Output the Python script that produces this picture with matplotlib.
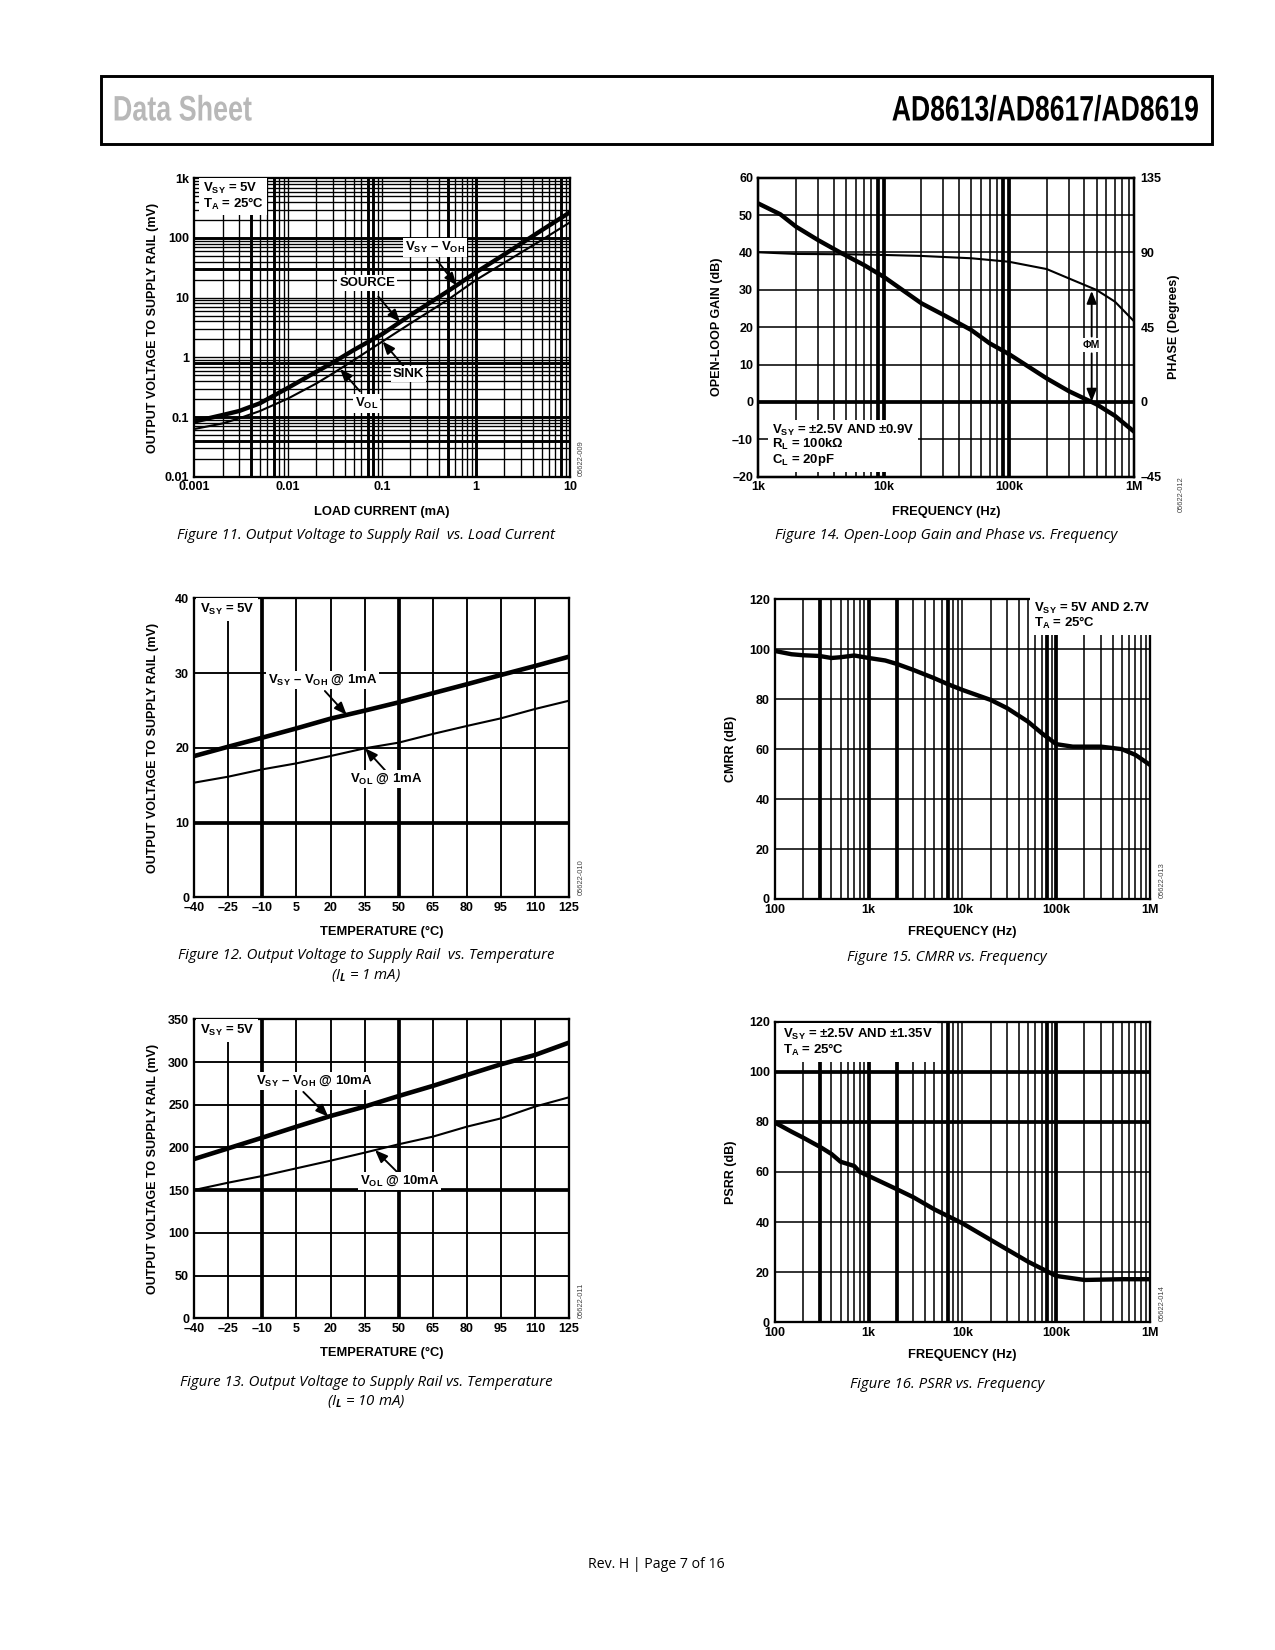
import numpy as np
import matplotlib
matplotlib.use('Agg')
import matplotlib.pyplot as plt
from matplotlib.ticker import FixedLocator, FixedFormatter, NullLocator
from matplotlib.patches import Rectangle
from matplotlib import patheffects
from matplotlib.transforms import Affine2D

plt.rcParams['font.family'] = ['Liberation Sans', 'DejaVu Sans']
plt.rcParams['font.weight'] = 'bold'
plt.rcParams['mathtext.fontset'] = 'custom'
plt.rcParams['mathtext.rm'] = 'Liberation Sans:bold'
plt.rcParams['mathtext.bf'] = 'Liberation Sans:bold'
plt.rcParams['mathtext.sf'] = 'Liberation Sans:bold'
plt.rcParams['mathtext.it'] = 'Open Sans:italic'

# ---------------- DATA ----------------
# Figure 11: output voltage to supply rail vs load current (log-log)
load_current_mA = [0.001, 0.002, 0.003, 0.005, 0.01, 0.02, 0.03, 0.05, 0.1, 0.2, 0.5, 1, 2, 3, 5, 10]
source_mV = [0.084, 0.108, 0.126, 0.17, 0.31, 0.575, 0.82, 1.33, 2.45, 5.1, 12.8, 26.6, 53, 80, 135, 270]
sink_mV = [0.063, 0.078, 0.095, 0.126, 0.205, 0.366, 0.54, 0.9, 1.83, 3.7, 9.2, 19.8, 38.6, 56.8, 92.6, 183]
fig11_xticks = [0.001, 0.01, 0.1, 1, 10]
fig11_xlabels = ['0.001', '0.01', '0.1', '1', '10']
fig11_yticks = [0.01, 0.1, 1, 10, 100, 1000]
fig11_ylabels = ['0.01', '0.1', '1', '10', '100', '1k']

# Figures 12 and 13: output voltage to supply rail vs temperature
temperature_C = [-40, -25, -10, 5, 20, 35, 50, 65, 80, 95, 110, 125]
voh_1mA = [18.9, 20.15, 21.36, 22.6, 23.9, 24.97, 26.08, 27.3, 28.5, 29.74, 30.94, 32.19]
vol_1mA = [15.34, 16.14, 17.12, 17.92, 18.9, 19.93, 20.69, 21.85, 22.92, 23.94, 25.19, 26.3]
voh_10mA = [186.5, 199, 211.5, 224.3, 236.8, 247.8, 260.2, 272, 284.8, 297.3, 308.2, 322.7]
vol_10mA = [150.2, 158.8, 166.6, 175.6, 184.5, 193.9, 203.7, 212.6, 224.3, 234, 247.8, 258.7]
temp_ticklabels = ['\u201340', '\u201325', '\u201310', '5', '20', '35', '50', '65', '80', '95', '110', '125']
fig12_yticks = [0, 10, 20, 30, 40]
fig13_yticks = [0, 50, 100, 150, 200, 250, 300, 350]

# Figure 14: open-loop gain and phase vs frequency
gain_freq_Hz = [1e3, 1.5e3, 2e3, 3e3, 4.5e3, 7e3, 1e4, 2e4, 3e4, 5e4, 7e4, 1e5, 2e5, 3e5, 5e5, 7e5, 1e6]
gain_dB = [53.1, 50.2, 46.9, 43.3, 40.0, 36.6, 33.5, 26.4, 23.3, 19.25, 15.7, 12.8, 6.3, 2.9, -0.64, -3.7, -8.0]
phase_freq_Hz = [1e3, 2e3, 5e3, 1e4, 2e4, 5e4, 1e5, 2e5, 3e5, 5e5, 7e5, 1e6]
phase_deg = [90.1, 89.1, 88.9, 88.5, 87.9, 86.5, 84.4, 80.0, 74.4, 67.4, 60.4, 48.4]
fig14_xticks = [1e3, 1e4, 1e5, 1e6]
fig14_xlabels = ['1k', '10k', '100k', '1M']
fig14_gain_ticks = [-20, -10, 0, 10, 20, 30, 40, 50, 60]
fig14_phase_ticks = [-45, 0, 45, 90, 135]

# Figure 15: CMRR vs frequency
cmrr_freq_Hz = [100, 150, 200, 300, 400, 500, 700, 1e3, 1.5e3, 2e3, 3e3, 5e3, 7e3, 1e4, 2e4, 3e4, 5e4,
                7e4, 1e5, 1.5e5, 2e5, 3e5, 5e5, 7e5, 1e6]
cmrr_dB = [99.3, 98.0, 97.6, 97.3, 96.5, 96.8, 97.5, 96.5, 95.5, 94.1, 91.7, 88.4, 86.0, 83.7, 79.7, 76.4,
           71.0, 66.4, 62.0, 61.0, 61.0, 61.0, 60.0, 57.7, 53.7]

# Figure 16: PSRR vs frequency
psrr_freq_Hz = [100, 150, 200, 250, 300, 400, 500, 700, 800, 1e3, 2e3, 3e3, 5e3, 1e4, 2e4, 5e4, 1e5,
                2e5, 5e5, 1e6]
psrr_dB = [79.7, 76.1, 73.7, 71.7, 70.1, 67.2, 64.1, 62.4, 60.1, 58.4, 53.1, 49.9, 45.1, 39.5, 32.9,
           24.2, 18.5, 16.9, 17.2, 17.2]
freq_ticks = [100, 1e3, 1e4, 1e5, 1e6]
freq_labels = ['100', '1k', '10k', '100k', '1M']
db_ticks = [0, 20, 40, 60, 80, 100, 120]

# ---------------- HELPERS ----------------
DPI = 150
fig = plt.figure(figsize=(8.5, 11), dpi=DPI)
FW, FH = 1275.0, 1650.0


class Squeeze(patheffects.AbstractPathEffect):
    """Draw glyphs horizontally condensed about their centre (text stays a real Text artist)."""
    def __init__(self, sx):
        super().__init__()
        self.sx = sx

    def draw_path(self, renderer, gc, tpath, affine, rgbFace=None):
        v = tpath.vertices
        c = 0.5 * (v[:, 0].min() + v[:, 0].max()) if len(v) else 0.0
        pre = Affine2D().translate(-c, 0).scale(self.sx, 1.0).translate(c, 0)
        renderer.draw_path(gc, tpath, pre + affine, rgbFace)


def rect(l, t, r, b):
    return [l / FW, 1 - b / FH, (r - l) / FW, (b - t) / FH]


def log_positions(lo, hi):
    out = []
    e = lo
    while e < hi:
        for m in range(1, 10):
            out.append(m * 10.0 ** e)
        e += 1
    return out[1:]


def draw_grid(ax, xs, ys, xthick=(), ythick=(), lw=0.7, lwt=1.5):
    for x in xs:
        w = lwt if any(np.isclose(x, t, rtol=1e-6) for t in xthick) else lw
        ax.axvline(x, color='k', lw=w, zorder=1)
    for y in ys:
        w = lwt if any(np.isclose(y, t, rtol=1e-6) for t in ythick) else lw
        ax.axhline(y, color='k', lw=w, zorder=1)


def style_axes(ax, xticks, xlabels, yticks, ylabels):
    ax.xaxis.set_major_locator(FixedLocator(xticks))
    ax.xaxis.set_major_formatter(FixedFormatter(xlabels))
    ax.yaxis.set_major_locator(FixedLocator(yticks))
    ax.yaxis.set_major_formatter(FixedFormatter(ylabels))
    ax.xaxis.set_minor_locator(NullLocator())
    ax.yaxis.set_minor_locator(NullLocator())
    ax.tick_params(axis='both', length=0, labelsize=6)
    ax.tick_params(axis='x', pad=2.2)
    ax.tick_params(axis='y', pad=2.5)
    for s in ax.spines.values():
        s.set_linewidth(1.1)
        s.set_zorder(6)


def labels(ax, xl, yl, xl_y, yl_x):
    ax.text(0.5, xl_y, xl, transform=ax.transAxes, ha='center', va='center', fontsize=6.2)
    ax.text(yl_x, 0.5, yl, transform=ax.transAxes, ha='center', va='center', fontsize=6.0, rotation=90)


def on_curve(xq, xs, ys, logx=False, logy=False):
    xa = np.log10(xs) if logx else np.asarray(xs, float)
    ya = np.log10(ys) if logy else np.asarray(ys, float)
    xv = np.log10(xq) if logx else xq
    v = np.interp(xv, xa, ya)
    return 10 ** v if logy else v


def arrow(ax, tail, tip):
    ax.annotate('', xy=tip, xytext=tail, zorder=7,
                arrowprops=dict(arrowstyle='-|>,head_length=0.5,head_width=0.2', color='k', lw=0.9,
                                shrinkA=0, shrinkB=0))


def tag(ax, x, y, s, fs=6.3, coords='data', ha='center', pad=0.15, ls=1.0):
    tr = ax.transData if coords == 'data' else ax.transAxes
    ax.text(x, y, s, transform=tr, ha=ha, va='center', fontsize=fs, zorder=8, linespacing=ls,
            bbox=dict(boxstyle='square,pad=%s' % pad, fc='white', ec='none'))


def caption(x, y, s):
    fig.text(x / FW, 1 - y / FH, s, ha='center', va='center', fontsize=7.2, family='Open Sans',
             style='italic', weight='normal')


def plate(x, y, s):
    fig.text(x / FW, 1 - y / FH, s, ha='center', va='center', fontsize=3.6, rotation=90,
             weight='normal', color='#444444')


VSY = r'V$_\mathrm{SY}$'
VOH = r'V$_\mathrm{OH}$'
VOL = r'V$_\mathrm{OL}$'
TA = r'T$_\mathrm{A}$'

# ---------------- HEADER / FOOTER ----------------
fig.add_artist(Rectangle((101 / FW, 1 - 144 / FH), (1212 - 101) / FW, 68 / FH, transform=fig.transFigure,
                         fill=False, lw=1.4, ec='k'))
fig.text(182.5 / FW, 1 - 111 / FH, 'Data Sheet', ha='center', va='center', fontsize=17,
         family='Liberation Sans', weight='bold', color='#b8b8b8',
         path_effects=[Squeeze(0.76)])
fig.text(1045.5 / FW, 1 - 111 / FH, 'AD8613/AD8617/AD8619', ha='center', va='center', fontsize=17,
         family='Liberation Sans', weight='bold', color='black',
         path_effects=[Squeeze(0.75)])
fig.text(656 / FW, 1 - 1564 / FH, 'Rev. H | Page 7 of 16', ha='center', va='center', fontsize=6.8,
         family='Open Sans', weight='normal')

# ---------------- FIGURE 11 ----------------
ax = fig.add_axes(rect(194.3, 178.3, 570, 476.7))
ax.set_xscale('log'); ax.set_yscale('log')
ax.set_xlim(0.001, 10); ax.set_ylim(0.01, 1000)
draw_grid(ax, log_positions(-3, 1), log_positions(-2, 3),
          xthick=[0.004, 0.007, 0.07, 0.08, 0.5, 1, 8], ythick=[0.04, 0.1, 0.8, 30, 100], lw=0.65, lwt=1.4)
ax.plot(load_current_mA, source_mV, color='k', lw=2.1, zorder=4, solid_capstyle='butt')
ax.plot(load_current_mA, sink_mV, color='k', lw=1.0, zorder=4)
style_axes(ax, fig11_xticks, fig11_xlabels, fig11_yticks, fig11_ylabels)
labels(ax, 'LOAD CURRENT (mA)', 'OUTPUT VOLTAGE TO SUPPLY RAIL (mV)', -0.117, -0.110)
tag(ax, 0.022, 0.94, VSY + ' = 5V\n' + TA + ' = 25\u00b0C', coords='axes', ha='left', pad=0.25, ls=0.95)
tag(ax, 0.366, 69, VSY + ' \u2013 ' + VOH)
arrow(ax, (0.38, 43), (0.62, on_curve(0.62, load_current_mA, source_mV, True, True)))
tag(ax, 0.0696, 17.4, 'SOURCE')
arrow(ax, (0.091, 10.4), (0.155, on_curve(0.155, load_current_mA, source_mV, True, True)))
tag(ax, 0.19, 0.52, 'SINK')
arrow(ax, (0.168, 0.72), (0.101, on_curve(0.101, load_current_mA, sink_mV, True, True)))
tag(ax, 0.0685, 0.17, VOL)
arrow(ax, (0.058, 0.27), (0.0356, on_curve(0.0356, load_current_mA, sink_mV, True, True)))
plate(581.7, 458, '05622-009')
caption(366, 535.5, 'Figure 11. Output Voltage to Supply Rail  vs. Load Current')

# ---------------- FIGURE 12 ----------------
ax = fig.add_axes(rect(194.3, 598.3, 569, 897.3))
ax.set_xlim(-40, 125); ax.set_ylim(0, 40)
draw_grid(ax, temperature_C[1:-1], [10, 20, 30], xthick=[-10, 50], ythick=[10], lw=0.9, lwt=1.8)
ax.plot(temperature_C, voh_1mA, color='k', lw=2.2, zorder=4)
ax.plot(temperature_C, vol_1mA, color='k', lw=1.0, zorder=4)
style_axes(ax, temperature_C, temp_ticklabels, fig12_yticks, [str(v) for v in fig12_yticks])
labels(ax, 'TEMPERATURE (\u00b0C)', 'OUTPUT VOLTAGE TO SUPPLY RAIL (mV)', -0.115, -0.110)
tag(ax, 0.015, 0.963, VSY + ' = 5V', coords='axes', ha='left', pad=0.3)
tag(ax, 16.5, 29.07, VSY + ' \u2013 ' + VOH + ' @ 1mA')
arrow(ax, (17.5, 27.6), (27.1, on_curve(27.1, temperature_C, voh_1mA)))
tag(ax, 44.3, 15.8, VOL + ' @ 1mA')
arrow(ax, (44.0, 17.0), (35.2, on_curve(35.2, temperature_C, vol_1mA)))
plate(581.7, 876.7, '05622-010')
caption(366, 956, 'Figure 12. Output Voltage to Supply Rail  vs. Temperature')
caption(366, 975, r'(I$_{\mathit{L}}$ = 1 mA)')

# ---------------- FIGURE 13 ----------------
ax = fig.add_axes(rect(194.3, 1019.3, 569, 1318.3))
ax.set_xlim(-40, 125); ax.set_ylim(0, 350)
draw_grid(ax, temperature_C[1:-1], fig13_yticks[1:-1], xthick=[-10, 50], ythick=[150], lw=0.9, lwt=1.8)
ax.plot(temperature_C, voh_10mA, color='k', lw=2.2, zorder=4)
ax.plot(temperature_C, vol_10mA, color='k', lw=1.0, zorder=4)
style_axes(ax, temperature_C, temp_ticklabels, fig13_yticks, [str(v) for v in fig13_yticks])
labels(ax, 'TEMPERATURE (\u00b0C)', 'OUTPUT VOLTAGE TO SUPPLY RAIL (mV)', -0.116, -0.110)
tag(ax, 0.015, 0.964, VSY + ' = 5V', coords='axes', ha='left', pad=0.3)
tag(ax, 12.7, 277.8, VSY + ' \u2013 ' + VOH + ' @ 10mA')
arrow(ax, (8, 265), (19, on_curve(19, temperature_C, voh_10mA)))
tag(ax, 50.4, 160.7, VOL + ' @ 10mA')
arrow(ax, (49.8, 170), (39.6, on_curve(39.6, temperature_C, vol_10mA)))
plate(581.7, 1300, '05622-011')
caption(366, 1383, 'Figure 13. Output Voltage to Supply Rail vs. Temperature')
caption(366, 1402, r'(I$_{\mathit{L}}$ = 10 mA)')

# ---------------- FIGURE 14 ----------------
ax = fig.add_axes(rect(758.3, 177.7, 1134.3, 476.7))
ax.set_xscale('log')
ax.set_xlim(1e3, 1e6); ax.set_ylim(-20, 60)
draw_grid(ax, log_positions(3, 6), [-10, 0, 10, 20, 30, 40, 50],
          xthick=[9e3, 1e4, 9e4, 1e5], ythick=[0], lw=0.75, lwt=1.8)
ax.plot(gain_freq_Hz, gain_dB, color='k', lw=2.1, zorder=4)
style_axes(ax, fig14_xticks, fig14_xlabels, fig14_gain_ticks,
           [str(v).replace('-', '\u2013') for v in fig14_gain_ticks])
labels(ax, 'FREQUENCY (Hz)', 'OPEN-LOOP GAIN (dB)', -0.117, -0.110)
ax.text(1.106, 0.5, 'PHASE (Degrees)', transform=ax.transAxes, ha='center', va='center', fontsize=6.0,
        rotation=90)
tag(ax, 0.036, 0.105, VSY + ' = \u00b12.5V AND \u00b10.9V\n' + r'R$_\mathrm{L}$' + ' = 100k\u03a9\n'
    + r'C$_\mathrm{L}$' + ' = 20pF', coords='axes', ha='left', pad=0.3, ls=0.95)
ax2 = ax.twinx()
ax2.set_ylim(-45, 135)
ax2.plot(phase_freq_Hz, phase_deg, color='k', lw=1.0, zorder=4)
ax2.yaxis.set_major_locator(FixedLocator(fig14_phase_ticks))
ax2.yaxis.set_major_formatter(FixedFormatter([str(v).replace('-', '\u2013') for v in fig14_phase_ticks]))
ax2.yaxis.set_minor_locator(NullLocator())
ax2.tick_params(axis='y', length=0, labelsize=6, pad=3)
for s in ax2.spines.values():
    s.set_linewidth(1.1)
pm_x = 4.57e5
arrow(ax, (pm_x, 17.5), (pm_x, 29.7))
arrow(ax, (pm_x, 13.0), (pm_x, 0.1))
tag(ax, pm_x, 15.2, '\u03a6M', fs=5.0, pad=0.2)
plate(1181, 494, '05622-012')
caption(946, 535.5, 'Figure 14. Open-Loop Gain and Phase vs. Frequency')

# ---------------- FIGURE 15 ----------------
ax = fig.add_axes(rect(775, 599.3, 1150, 899))
ax.set_xscale('log')
ax.set_xlim(100, 1e6); ax.set_ylim(0, 120)
draw_grid(ax, log_positions(2, 6), [20, 40, 60, 80, 100],
          xthick=[300, 1e3, 2e3, 7e3, 8e4, 1e5], ythick=[], lw=0.75, lwt=1.8)
ax.plot(cmrr_freq_Hz, cmrr_dB, color='k', lw=2.1, zorder=4)
style_axes(ax, freq_ticks, freq_labels, db_ticks, [str(v) for v in db_ticks])
labels(ax, 'FREQUENCY (Hz)', 'CMRR (dB)', -0.109, -0.117)
tag(ax, 0.691, 0.944, VSY + ' = 5V AND 2.7V\n' + TA + ' = 25\u00b0C', coords='axes', ha='left', pad=0.3,
    ls=0.95)
plate(1162.7, 880, '05622-013')
caption(946.7, 958, 'Figure 15. CMRR vs. Frequency')

# ---------------- FIGURE 16 ----------------
ax = fig.add_axes(rect(775, 1021.7, 1150, 1322.3))
ax.set_xscale('log')
ax.set_xlim(100, 1e6); ax.set_ylim(0, 120)
draw_grid(ax, log_positions(2, 6), [20, 40, 60, 80, 100],
          xthick=[300, 1e3, 2e3, 7e3, 8e4, 1e5], ythick=[80, 100], lw=0.75, lwt=1.8)
ax.plot(psrr_freq_Hz, psrr_dB, color='k', lw=2.1, zorder=4)
style_axes(ax, freq_ticks, freq_labels, db_ticks, [str(v) for v in db_ticks])
labels(ax, 'FREQUENCY (Hz)', 'PSRR (dB)', -0.109, -0.117)
tag(ax, 0.022, 0.931, VSY + ' = \u00b12.5V AND \u00b11.35V\n' + TA + ' = 25\u00b0C', coords='axes', ha='left',
    pad=0.3, ls=0.95)
plate(1162.7, 1303, '05622-014')
caption(946.7, 1385, 'Figure 16. PSRR vs. Frequency')

fig.savefig('out.png', dpi=DPI, facecolor='white')
